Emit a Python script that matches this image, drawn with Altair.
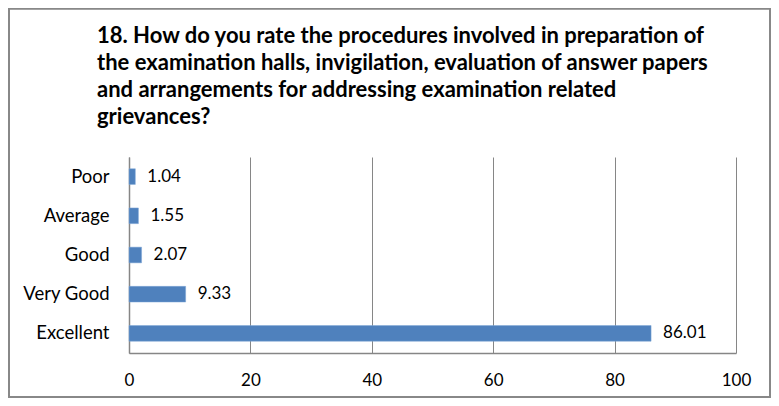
import altair as alt
import pandas as pd

categories = ["Poor", "Average", "Good", "Very Good", "Excellent"]
values = [1.04, 1.55, 2.07, 9.33, 86.01]
x_ticks = [0, 20, 40, 60, 80, 100]
title_lines = [
    "18. How do you rate the procedures involved in preparation of",
    "the examination halls, invigilation, evaluation of answer papers",
    "and arrangements for addressing examination related",
    "grievances?",
]

df = pd.DataFrame({"category": categories, "value": values})
df["label"] = df["value"].map(lambda v: f"{v:.2f}")

FONT = "Lato"
W, H = 607, 196
PL, PT, PR, PB = 121, 149, 35, 45

y_enc = alt.Y(
    "category:N",
    sort=categories,
    title=None,
    scale=alt.Scale(paddingInner=0.6, paddingOuter=0.3),
    axis=alt.Axis(
        labelFont=FONT, labelFontSize=18.5, labelColor="#000000",
        labelPadding=20, ticks=False, domainColor="#868686", domainWidth=1.5,
        grid=False,
    ),
)

x_enc = alt.X(
    "value:Q",
    title=None,
    scale=alt.Scale(domain=[0, 100], nice=False),
    axis=alt.Axis(
        values=x_ticks, labelFont=FONT, labelFontSize=17, labelColor="#000000",
        labelPadding=19, labelFlush=False, ticks=False,
        domainColor="#868686", domainWidth=1.5,
        grid=True, gridColor="#868686", gridWidth=1,
    ),
)

bars = alt.Chart(df).mark_bar(color="#4F81BD", stroke="#7FA6D6", strokeWidth=0.5).encode(
    x=x_enc, y=y_enc
)

labels = alt.Chart(df).mark_text(
    align="left", baseline="middle", dx=12, font=FONT, fontSize=17, color="#000000"
).encode(x="value:Q", y=alt.Y("category:N", sort=categories), text="label:N")

border = alt.Chart(df).mark_rect(
    fill=None, stroke="#888888", strokeWidth=1.5
).encode(
    x=alt.value(-PL + 1), x2=alt.value(W + PR - 1),
    y=alt.value(-PT + 0.5), y2=alt.value(H + PB - 1),
)

chart = alt.layer(border, bars, labels).properties(
    width=W,
    height=H,
    background="#ffffff",
    title=alt.TitleParams(
        text=title_lines,
        anchor="start",
        frame="group",
        dx=-32,
        font=FONT,
        fontSize=22,
        fontWeight="bold",
        color="#000000",
        lineHeight=27,
        offset=-121,
    ),
    padding={"left": PL, "top": PT, "right": PR, "bottom": PB},
    autosize=alt.AutoSizeParams(type="none"),
).configure_view(stroke=None)

chart.save("out.html", embed_options={"renderer": "svg", "actions": False})
